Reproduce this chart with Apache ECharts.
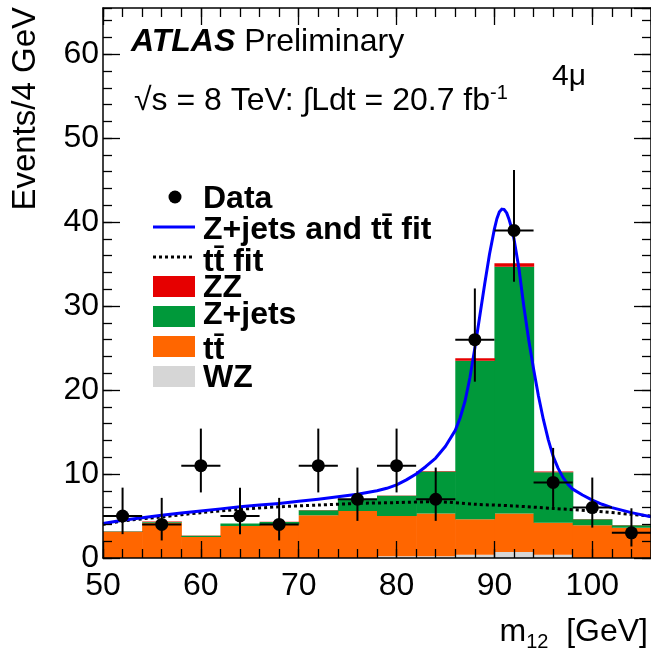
<!DOCTYPE html>
<html><head><meta charset="utf-8">
<script src="https://cdn.jsdelivr.net/npm/echarts@6/dist/echarts.min.js"></script>
<style>html,body{margin:0;padding:0;background:#fff}#c{width:651px;height:655px}</style>
</head><body><div id="c"></div>
<script>
// ---- data ----
const binEdges = [50,54,58,62,66,70,74,78,82,86,90,94,98,102,106];
const wz     = [0,0,0,0,0,0,0,0.2,0.2,0.4,0.7,0.4,0,0];
const ttbar  = [3.1,4.2,2.5,3.8,4.0,5.1,5.6,4.8,5.1,4.2,4.6,3.8,3.9,3.6];
const zjets  = [0.05,0.1,0.15,0.3,0.3,0.6,1.4,2.4,5.0,18.9,29.4,6.0,0.7,0.3];
const zz     = [0.05,0.05,0.02,0.02,0.02,0.03,0.03,0.05,0.05,0.3,0.4,0.1,0.03,0.02];

const dataX    = [52,56,60,64,68,72,76,80,84,88,92,96,100,104];
const dataY    = [5,4,11,5,4,11,7,11,7,26,39,9,6,3];
const dataLow  = [2.84,2.09,7.81,2.84,2.09,7.81,4.42,7.81,4.42,21.0,32.9,6.08,3.62,1.37];
const dataHigh = [8.38,7.16,15.41,8.38,7.16,15.41,10.77,15.41,10.77,32.1,46.2,13.11,9.58,5.92];

const fitX = [50,52,54,56,58,60,62,64,66,68,70,72,74,76,78,79,80,81,82,83,84,85,86,86.5,87,87.5,88,88.5,89,89.5,90,90.25,90.5,90.75,91,91.25,91.5,91.75,92,92.5,93,93.5,94,94.5,95,95.5,96,96.5,97,97.5,98,99,100,101,102,104,106];
const fitY = [4.1,4.5,4.8,5.1,5.35,5.6,5.85,6.1,6.3,6.5,6.75,7.0,7.3,7.6,8.0,8.3,8.7,9.3,10.0,10.9,11.9,13.3,15.2,16.7,18.7,21.5,25.0,28.8,32.6,36.2,39.2,40.4,41.2,41.55,41.5,41.1,40.3,39.3,38.0,34.5,30.0,26.0,22.5,19.3,16.5,14.1,12.1,10.7,9.6,8.8,8.2,7.5,6.9,6.4,6.0,5.4,4.9];

const ttFitX = [50,52,56,60,64,68,72,76,80,84,88,92,96,100,104,106];
const ttFitY = [4.0,4.4,4.9,5.4,5.8,6.1,6.3,6.5,6.6,6.7,6.4,6.2,5.9,5.6,5.2,5.0];

const xMin = 50, xMax = 106, yMin = 0, yMax = 65.5;
// ---------------------------------------

const FONT = 'Liberation Sans, Arial, Helvetica, sans-serif';
const chart = echarts.init(document.getElementById('c'), null, {renderer:'canvas'});

const comps = [
  {vals: wz, color: '#d6d6d6'},
  {vals: ttbar, color: '#ff6600'},
  {vals: zjets, color: '#00993a'},
  {vals: zz, color: '#e60000'}
];
let base = wz.map(() => 0);
const histSeries = comps.map(c => {
  const d = c.vals.map((v, i) => [binEdges[i], binEdges[i+1], base[i], base[i] + v]);
  base = base.map((b, i) => b + c.vals[i]);
  return {
    type: 'custom', z: 1, silent: true,
    encode: {x: [0,1], y: [2,3]},
    data: d,
    renderItem: function (params, api) {
      const p0 = api.coord([api.value(0), api.value(2)]);
      const p1 = api.coord([api.value(1), api.value(3)]);
      if (api.value(3) - api.value(2) <= 0) return null;
      return {type: 'rect', shape: {x: p0[0], y: p1[1], width: p1[0]-p0[0] + 0.6, height: p0[1]-p1[1]},
              style: {fill: c.color}};
    }
  };
});

const halfBin = (binEdges[1] - binEdges[0]) / 2;
const dataSeries = {
  type: 'custom', z: 5, silent: true,
  encode: {x: 0, y: 1},
  data: dataX.map((x, i) => [x, dataY[i], dataLow[i], dataHigh[i]]),
  renderItem: function (params, api) {
    const x = api.value(0), y = api.value(1);
    const c = api.coord([x, y]);
    const pl = api.coord([x, api.value(2)]), ph = api.coord([x, api.value(3)]);
    const xl = api.coord([x - halfBin, y]), xr = api.coord([x + halfBin, y]);
    return {type: 'group', children: [
      {type: 'line', shape: {x1: c[0], y1: ph[1], x2: c[0], y2: pl[1]}, style: {stroke: '#000', lineWidth: 2}},
      {type: 'line', shape: {x1: xl[0], y1: c[1], x2: xr[0], y2: c[1]}, style: {stroke: '#000', lineWidth: 2}},
      {type: 'circle', shape: {cx: c[0], cy: c[1], r: 6.5}, style: {fill: '#000'}}
    ]};
  }
};

function xAx(pos, major, show) {
  return {
    type: 'value', min: xMin, max: xMax, interval: major ? 10 : 2, position: pos, z: 10,
    axisLine: {show: show, onZero: false, lineStyle: {color: '#000', width: 1.5}},
    axisTick: {show: true, inside: true, length: major ? 17 : 9, lineStyle: {color: '#000', width: 1.3}},
    axisLabel: {show: major && pos === 'bottom', fontSize: 32, color: '#000', fontFamily: FONT, margin: 12, showMaxLabel: false},
    splitLine: {show: false}
  };
}
function yAx(pos, major, show) {
  return {
    type: 'value', min: yMin, max: yMax, interval: major ? 10 : 2, position: pos, z: 10,
    axisLine: {show: show, onZero: false, lineStyle: {color: '#000', width: 1.5}},
    axisTick: {show: true, inside: true, length: major ? 17 : 9, lineStyle: {color: '#000', width: 1.3}},
    axisLabel: {show: major && pos === 'left', fontSize: 32, color: '#000', fontFamily: FONT, margin: 4, showMaxLabel: false},
    splitLine: {show: false}
  };
}

function txt(x, y, text, opt) {
  return {type: 'text', x: x, y: y, z: 20, silent: true,
    style: Object.assign({text: text, fill: '#000', fontSize: 32, fontFamily: FONT,
      align: 'left', textAlign: 'left', verticalAlign: 'middle', textVerticalAlign: 'middle'}, opt || {})};
}

const legX = 153, legW = 42, legTextX = 203;
const graphic = [
  txt(131, 42, '{a|ATLAS} {b|Preliminary}', {rich: {
    a: {fontSize: 32, fontWeight: 'bold', fontStyle: 'italic', fontFamily: FONT, fill: '#000'},
    b: {fontSize: 32, fontFamily: FONT, fill: '#000'}}}),
  txt(134, 101, '{a|\u221As = 8 TeV: \u222BLdt = 20.7 fb}{s|-1}', {rich: {
    a: {fontSize: 32, fontFamily: FONT, fill: '#000', lineHeight: 36},
    s: {fontSize: 20, fontFamily: FONT, fill: '#000', verticalAlign: 'top', lineHeight: 20}}}),
  txt(552, 77, '4\u03BC', {fontSize: 30}),
  Object.assign(txt(26, 7, 'Events/4 GeV', {align: 'right', textAlign: 'right', fontSize: 33}), {rotation: Math.PI / 2}),
  txt(648, 632, '{a|m}{b|12}{a|  [GeV]}', {align: 'right', textAlign: 'right', rich: {
    a: {fontSize: 32, fontFamily: FONT, fill: '#000', lineHeight: 40},
    b: {fontSize: 20, fontFamily: FONT, fill: '#000', verticalAlign: 'bottom', lineHeight: 22}}}),
  {type: 'circle', z: 20, silent: true, shape: {cx: 175, cy: 197, r: 6.5}, style: {fill: '#000'}},
  txt(legTextX, 199, 'Data', {fontWeight: 'bold'}),
  {type: 'line', z: 20, silent: true, shape: {x1: legX, y1: 227, x2: legX + legW, y2: 227}, style: {stroke: '#0000ff', lineWidth: 3}},
  txt(legTextX, 230, 'Z+jets and tt\u0304 fit', {fontWeight: 'bold'}),
  {type: 'line', z: 20, silent: true, shape: {x1: legX, y1: 257, x2: legX + legW, y2: 257}, style: {stroke: '#000', lineWidth: 3, lineDash: [3, 3]}},
  txt(legTextX, 262, 'tt\u0304 fit', {fontWeight: 'bold'}),
  {type: 'rect', z: 20, silent: true, shape: {x: legX, y: 276, width: legW, height: 21}, style: {fill: '#e60000'}},
  txt(legTextX, 288, 'ZZ', {fontWeight: 'bold'}),
  {type: 'rect', z: 20, silent: true, shape: {x: legX, y: 306, width: legW, height: 21}, style: {fill: '#00993a'}},
  txt(legTextX, 315, 'Z+jets', {fontWeight: 'bold'}),
  {type: 'rect', z: 20, silent: true, shape: {x: legX, y: 336, width: legW, height: 21}, style: {fill: '#ff6600'}},
  txt(legTextX, 350, 'tt\u0304', {fontWeight: 'bold'}),
  {type: 'rect', z: 20, silent: true, shape: {x: legX, y: 366, width: legW, height: 21}, style: {fill: '#d6d6d6'}},
  txt(legTextX, 378, 'WZ', {fontWeight: 'bold'})
];

chart.setOption({
  animation: false,
  backgroundColor: '#fff',
  grid: {left: 103, top: 8, right: -4, bottom: 97, containLabel: false},
  xAxis: [xAx('bottom', true, true), xAx('bottom', false, false), xAx('top', true, true), xAx('top', false, false)],
  yAxis: [yAx('left', true, true), yAx('left', false, false), yAx('right', true, true), yAx('right', false, false)],
  series: histSeries.concat([
    {type: 'line', z: 3, silent: true, showSymbol: false, smooth: 0.3,
     data: ttFitX.map((x, i) => [x, ttFitY[i]]),
     lineStyle: {color: '#000', width: 3, type: [3, 3]}},
    {type: 'line', z: 4, silent: true, showSymbol: false, smooth: false,
     data: fitX.map((x, i) => [x, fitY[i]]),
     lineStyle: {color: '#0000ff', width: 3, join: 'round'}},
    dataSeries
  ]),
  graphic: graphic
});
</script></body></html>
